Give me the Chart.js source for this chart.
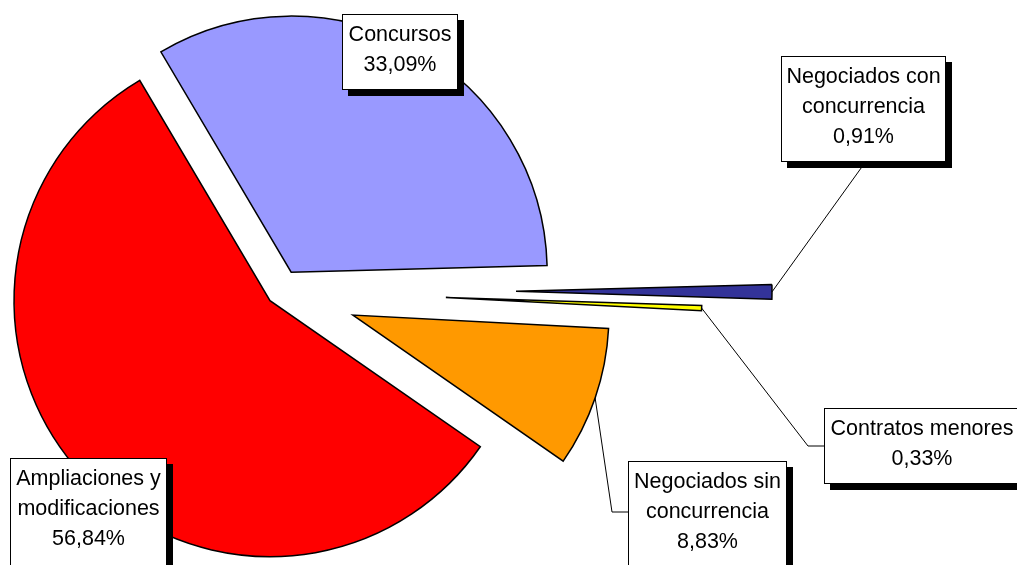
<!DOCTYPE html>
<html>
<head>
<meta charset="utf-8">
<script src="https://cdn.jsdelivr.net/npm/chart.js@4.4.0/dist/chart.umd.min.js"></script>
<style>
  html, body { margin: 0; padding: 0; background: #fff; }
  #wrap { width: 1017px; height: 565px; position: relative; }
</style>
</head>
<body>
<div id="wrap"><canvas id="myChart"></canvas></div>
<script>
const categories = ['Concursos', 'Negociados con concurrencia', 'Contratos menores', 'Negociados sin concurrencia', 'Ampliaciones y modificaciones'];
const percentages = [33.09, 0.91, 0.33, 8.83, 56.84];

const sliceColors = ['#9999FF', '#333399', '#FFFF00', '#FF9900', '#FF0000'];
// how far each slice is pulled out of the pie, px
const explode = [21, 235, 165, 76, 15];

// label boxes (breakAfter = words on the first line)
const labelBoxes = [
  {x: 342, y: 14, w: 116, h: 76, breakAfter: 0},
  {x: 781, y: 56, w: 165, h: 106, breakAfter: 2, leader: [[864, 164]]},
  {x: 824, y: 408, w: 196, h: 76, breakAfter: 0, leader: [[808, 446], [824, 446]]},
  {x: 628, y: 461, w: 159, h: 130, breakAfter: 2, leader: [[612, 512], [628, 512]]},
  {x: 10, y: 458, w: 157, h: 130, breakAfter: 2}
];

const ctx = document.getElementById('myChart');

function fmtPct(v) {
  return v.toFixed(2).replace('.', ',') + '%';
}

function labelLines(i) {
  const words = categories[i].split(' ');
  const n = labelBoxes[i].breakAfter;
  const lines = n ? [words.slice(0, n).join(' '), words.slice(n).join(' ')] : [categories[i]];
  return lines.concat(fmtPct(percentages[i]));
}

const explodePlugin = {
  id: 'explode',
  afterDatasetsUpdate(chart) {
    chart.getDatasetMeta(0).data.forEach((arc, i) => {
      const mid = (arc.startAngle + arc.endAngle) / 2;
      arc.x += Math.cos(mid) * explode[i];
      arc.y += Math.sin(mid) * explode[i];
    });
  }
};

const boxLabels = {
  id: 'boxLabels',
  afterDraw(chart) {
    const c = chart.ctx;
    const arcs = chart.getDatasetMeta(0).data;
    c.save();
    c.strokeStyle = '#000';
    c.lineWidth = 1;
    labelBoxes.forEach((b, i) => {
      if (!b.leader) return;
      const a = arcs[i];
      const mid = (a.startAngle + a.endAngle) / 2;
      c.beginPath();
      c.moveTo(a.x + Math.cos(mid) * a.outerRadius, a.y + Math.sin(mid) * a.outerRadius);
      b.leader.forEach(p => c.lineTo(p[0], p[1]));
      c.stroke();
    });

    c.font = '21.5px "Liberation Sans", Arial, sans-serif';
    c.textAlign = 'center';
    c.textBaseline = 'middle';
    labelBoxes.forEach((b, i) => {
      c.fillStyle = '#000';
      c.fillRect(b.x + 6, b.y + 6, b.w, b.h);
      c.fillStyle = '#fff';
      c.fillRect(b.x, b.y, b.w, b.h);
      c.strokeStyle = '#000';
      c.lineWidth = 1;
      c.strokeRect(b.x + 0.5, b.y + 0.5, b.w - 1, b.h - 1);
      c.fillStyle = '#000';
      labelLines(i).forEach((t, k) => c.fillText(t, b.x + b.w / 2, b.y + 21 + k * 30));
    });
    c.restore();
  }
};

const data = {
  labels: categories,
  datasets: [{
    data: percentages,
    backgroundColor: sliceColors,
    borderColor: '#000',
    borderWidth: 1.5,
    borderJoinStyle: 'miter',
    radius: 256,
    clip: false
  }]
};

const config = {
  type: 'pie',
  data: data,
  options: {
    responsive: true,
    maintainAspectRatio: false,
    animation: false,
    events: [],
    rotation: -30.6,
    layout: {
      padding: {left: 0, right: 455, top: 16, bottom: 0}
    },
    plugins: {
      legend: {display: false},
      tooltip: {enabled: false}
    }
  },
  plugins: [explodePlugin, boxLabels]
};

const myChart = new Chart(ctx, config);
</script>
</body>
</html>
